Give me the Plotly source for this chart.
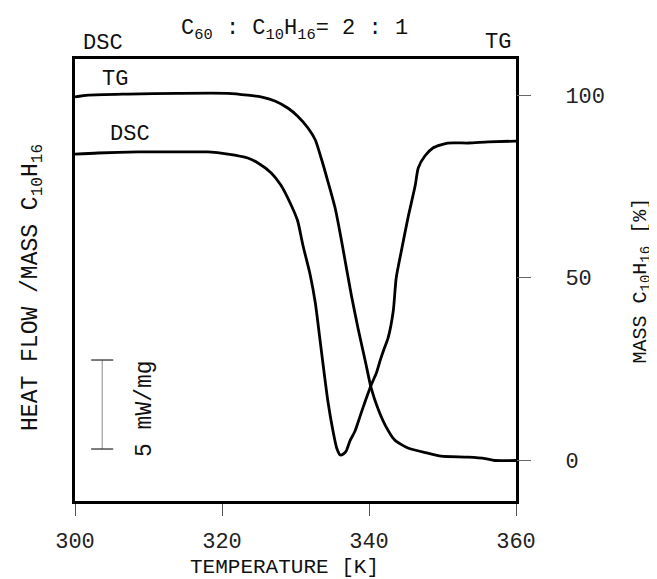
import plotly.graph_objects as go

# ---------------- data ----------------
tg_temp = [300.0, 301.8, 307.2, 314.0, 320.8, 323.5, 325.3, 327.2, 329.0, 330.3,
           331.7, 332.7, 333.5, 334.4, 335.4, 336.2, 337.1, 337.6, 338.5, 339.5,
           340.3, 341.2, 342.2, 343.5, 345.3, 348.0, 349.8, 353.5, 355.8, 357.1, 360.0]
tg_mass = [99.5, 100.0, 100.3, 100.5, 100.5, 100.0, 99.5, 98.4, 96.4, 94.2,
           91.0, 87.7, 82.7, 76.4, 69.0, 60.8, 50.7, 45.2, 36.2, 27.1,
           19.7, 14.2, 9.6, 5.5, 3.3, 1.9, 1.1, 0.8, 0.4, -0.1, -0.1]

dsc_temp = [300.0, 303.1, 308.6, 314.0, 318.1, 320.8, 323.5, 324.9, 326.7, 328.0,
            329.4, 330.3, 331.0, 332.0, 332.7, 333.3, 333.9, 334.4, 335.1, 335.6,
            336.1, 336.5, 336.9, 337.4, 338.1, 338.8, 339.5, 340.3, 341.0, 341.5,
            342.0, 342.6, 343.3, 343.7, 344.4, 345.3, 346.3, 346.7, 347.6, 348.7,
            350.7, 353.5, 356.2, 360.0]
dsc_flow = [19.49, 19.55, 19.61, 19.61, 19.61, 19.49, 19.27, 18.99, 18.43, 17.75,
            16.63, 15.73, 14.38, 12.70, 11.12, 9.16, 7.19, 5.62, 3.93, 2.98,
            2.58, 2.64, 2.81, 3.37, 3.93, 4.78, 5.62, 6.52, 7.19, 7.87,
            8.48, 9.16, 10.67, 12.53, 14.04, 15.90, 17.75, 18.71, 19.38, 19.83,
            20.11, 20.11, 20.17, 20.22]

x_ticks = [300, 320, 340, 360]
mass_ticks = [0, 50, 100]
scale_bar_mw = 5          # length of the scale bar in mW/mg
scale_bar_start = 2.92    # lower end of the scale bar (mW/mg)
scale_bar_temp = 303.7    # temperature where the bar is drawn

FONT = "Liberation Mono"
TXT = "#111111"

fig = go.Figure()
fig.add_trace(go.Scatter(x=dsc_temp, y=dsc_flow, mode="lines", yaxis="y",
                         line=dict(color="black", width=2.8, shape="spline", smoothing=0.6),
                         showlegend=False, hoverinfo="skip"))
fig.add_trace(go.Scatter(x=tg_temp, y=tg_mass, mode="lines", yaxis="y2",
                         line=dict(color="black", width=2.8, shape="spline", smoothing=0.6),
                         showlegend=False, hoverinfo="skip"))

# scale bar
fig.add_shape(type="line", xref="x", yref="y",
              x0=scale_bar_temp, x1=scale_bar_temp,
              y0=scale_bar_start, y1=scale_bar_start + scale_bar_mw,
              line=dict(color="#888", width=1))
for yy in (scale_bar_start, scale_bar_start + scale_bar_mw):
    fig.add_shape(type="line", xref="x", yref="y",
                  x0=scale_bar_temp - 1.5, x1=scale_bar_temp + 1.5, y0=yy, y1=yy,
                  line=dict(color="#333", width=1.3))

fig.update_layout(
    width=657, height=579,
    margin=dict(l=67, r=149, t=51, b=86),
    paper_bgcolor="white", plot_bgcolor="white",
    xaxis=dict(range=[300, 360], tickvals=x_ticks, ticks="outside", ticklen=12,
               tickcolor="#555", tickwidth=1, showline=True, mirror=True,
               linecolor="black", linewidth=2.5, showgrid=False, zeroline=False,
               tickfont=dict(family=FONT, size=22, color="#222"),
               ticklabelstandoff=6),
    yaxis=dict(range=[0, 24.83], showticklabels=False, ticks="", showline=True,
               mirror=True, linecolor="black", linewidth=2.5, showgrid=False,
               zeroline=False),
    yaxis2=dict(range=[-11.2, 109.9], overlaying="y", side="right",
                tickvals=mass_ticks, ticks="outside", ticklen=14, tickcolor="#666",
                tickwidth=1, showline=False, showgrid=False, zeroline=False,
                tickfont=dict(family=FONT, size=22, color="#222"),
                ticklabelstandoff=30),
)

def ann(text, x, y, size=22, angle=0, xanchor="center", yanchor="middle"):
    fig.add_annotation(text=text, x=x, y=y, xref="paper", yref="paper",
                       showarrow=False, textangle=angle, xanchor=xanchor,
                       yanchor=yanchor, font=dict(family=FONT, size=size, color=TXT))

ann("C<sub>60</sub> : C<sub>10</sub>H<sub>16</sub>= 2 : 1", 0.4966, 1.066, size=22)
ann("DSC", 0.0635, 1.036, size=22)
ann("TG", 0.959, 1.038, size=22)
ann("TG", 0.0907, 0.9536, size=22)
ann("DSC", 0.1247, 0.829, size=22)
ann("HEAT FLOW /MASS C<sub>10</sub>H<sub>16</sub>", -0.0952, 0.482, size=23, angle=-90)
ann("MASS C<sub>10</sub>H<sub>16</sub> [%]", 1.2835, 0.4989, size=20, angle=-90)
ann("5 mW/mg", 0.1587, 0.2104, size=23, angle=-90)
ann("TEMPERATURE [K]", 0.476, -0.180, size=21, yanchor="bottom")

fig.write_html("out.html")
